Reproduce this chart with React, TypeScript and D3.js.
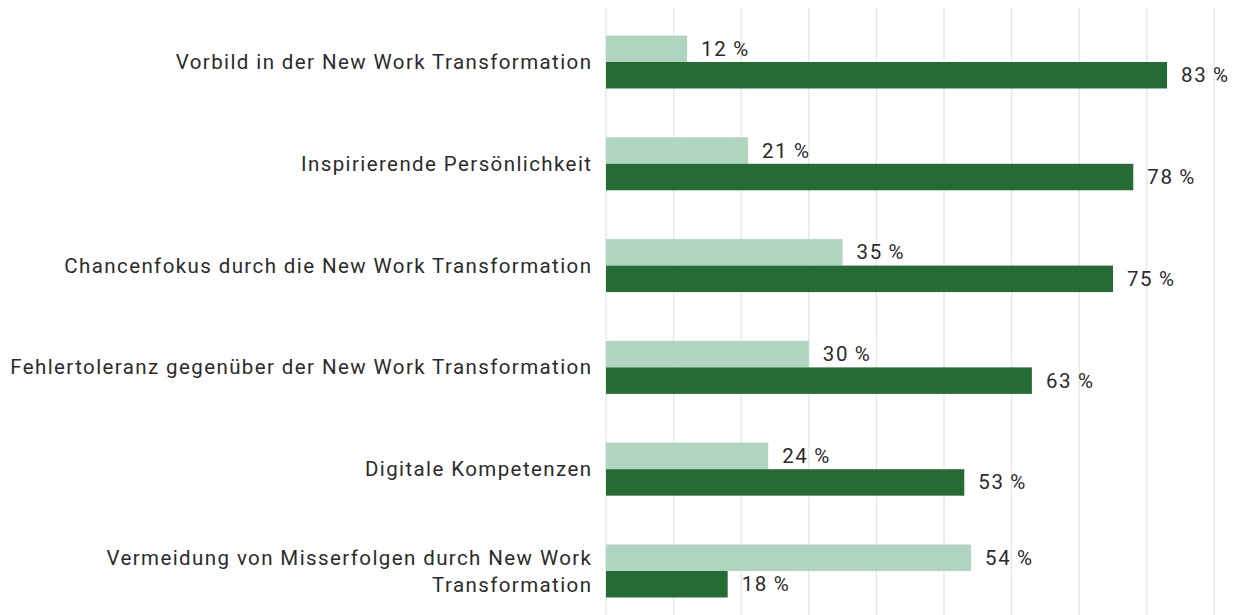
import React from 'react'
import {scaleLinear, scaleBand, range} from 'd3'

const categories = [
    ['Vorbild in der New Work Transformation'],
    ['Inspirierende Persönlichkeit'],
    ['Chancenfokus durch die New Work Transformation'],
    ['Fehlertoleranz gegenüber der New Work Transformation'],
    ['Digitale Kompetenzen'],
    ['Vermeidung von Misserfolgen durch New Work', 'Transformation'],
]
const seriesLight = [12, 21, 35, 30, 24, 54]
const seriesDark = [83, 78, 75, 63, 53, 18]
const gridTicks = range(0, 100, 10)

const width = 1235
const height = 615

const App = () => {
    const x0 = 606
    const xScale = scaleLinear().domain([0, 10]).range([x0, x0 + 67.6])
    const yScale = scaleBand<number>()
        .domain(range(categories.length))
        .range([11.1, 621.9])
        .paddingInner(0.48)
        .paddingOuter(0.24)
    const inner = scaleBand<string>()
        .domain(['light', 'dark'])
        .range([0, yScale.bandwidth()])

    const font = 'Roboto, "DejaVu Sans", sans-serif'

    return (
        <div style={{position: 'absolute', left: 0, top: 0}}>
            <svg width={width} height={height} viewBox={`0 0 ${width} ${height}`} style={{display: 'block', fontFamily: font}}>
                <rect width={width} height={height} fill="#fff" />
                {gridTicks.map(t => (
                    <line key={t} x1={xScale(t)} x2={xScale(t)} y1={8} y2={height}
                        stroke="#e3e6e4" strokeWidth={1.3} />
                ))}
                {categories.map((lines, i) => {
                    const y = yScale(i)!
                    const mid = y + yScale.bandwidth() / 2
                    const lh = 27
                    const start = mid - (lines.length - 1) * lh / 2
                    return (
                        <g key={i}>
                            <text x={591} textAnchor="end" fontSize={20.5} fill="#2b2b2b" letterSpacing={1.4}>
                                {lines.map((l, j) => (
                                    <tspan key={j} x={592.4} y={start + j * lh + 7}>{l}</tspan>
                                ))}
                            </text>
                            <rect x={xScale(0)} y={y + inner('light')!} width={xScale(seriesLight[i]) - xScale(0)}
                                height={inner.bandwidth()} fill="#afd4c0" />
                            <rect x={xScale(0)} y={y + inner('dark')!} width={xScale(seriesDark[i]) - xScale(0)}
                                height={inner.bandwidth()} fill="#246b34" />
                            <text x={xScale(seriesLight[i]) + 14} y={y + inner('light')! + inner.bandwidth() / 2 + 7}
                                fontSize={20.5} fill="#2b2b2b" letterSpacing={1.6}>{`${seriesLight[i]}\u2009%`}</text>
                            <text x={xScale(seriesDark[i]) + 14} y={y + inner('dark')! + inner.bandwidth() / 2 + 7}
                                fontSize={20.5} fill="#2b2b2b" letterSpacing={1.6}>{`${seriesDark[i]}\u2009%`}</text>
                        </g>
                    )
                })}
            </svg>
        </div>
    )
}

export default App
